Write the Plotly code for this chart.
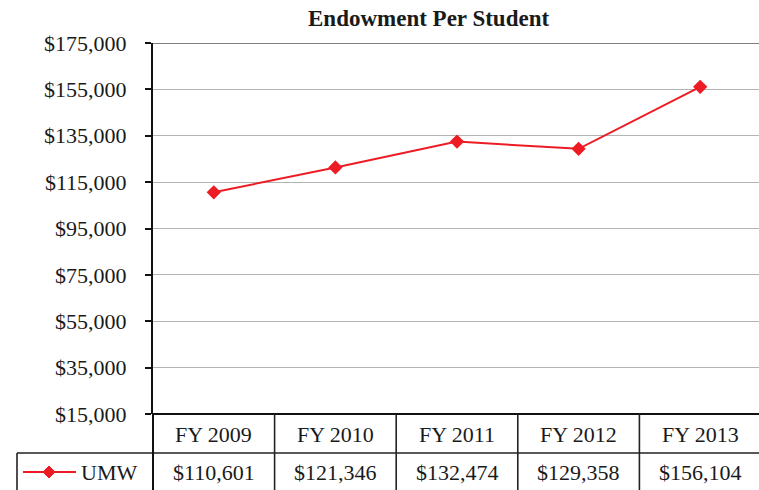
import plotly.graph_objects as go

categories = ["FY 2009", "FY 2010", "FY 2011", "FY 2012", "FY 2013"]
umw_values = [110601, 121346, 132474, 129358, 156104]
series_name = "UMW"
tick_values = [15000, 35000, 55000, 75000, 95000, 115000, 135000, 155000, 175000]
title_text = "Endowment Per Student"

W, H = 759, 490
ML, MT, MB = 153, 43, 76
PW = W - ML
PH = H - MT - MB
RED = "#ED1C24"
FONT = "Liberation Serif, Times New Roman, serif"
TXT = "#1a1a1a"
FS = 22

def px_x(p):
    return (p - ML) / PW

def px_y(p):
    return (H - MB - p) / PH

xs = list(range(len(categories)))
fig = go.Figure()
fig.add_trace(go.Scatter(
    x=xs, y=umw_values, mode="lines+markers", name=series_name,
    line=dict(color=RED, width=2),
    marker=dict(symbol="diamond", size=11, color=RED),
    showlegend=False, cliponaxis=False,
))

shapes = []
LINE = dict(color="#222", width=1.6)
shapes.append(dict(type="line", xref="paper", yref="y", x0=0, x1=1,
                   y0=tick_values[-1], y1=tick_values[-1],
                   line=dict(color="#555", width=1.5)))
shapes.append(dict(type="line", xref="paper", yref="paper", x0=0, x1=1.01,
                   y0=0, y1=0, line=dict(color="#111", width=2)))
row_sep = px_y(453)
bottom = px_y(500)
shapes.append(dict(type="line", xref="paper", yref="paper", x0=px_x(17), x1=1.01,
                   y0=row_sep, y1=row_sep, line=LINE))
shapes.append(dict(type="line", xref="paper", yref="paper", x0=px_x(17), x1=px_x(17),
                   y0=row_sep, y1=bottom, line=LINE))
shapes.append(dict(type="line", xref="paper", yref="paper", x0=0, x1=0,
                   y0=0, y1=bottom, line=dict(color="#111", width=2)))
for i in range(len(categories) - 1):
    shapes.append(dict(type="line", xref="x", yref="paper", x0=i + 0.5, x1=i + 0.5,
                       y0=0, y1=bottom, line=LINE))
# legend key in table
ly = px_y(472)
shapes.append(dict(type="line", xref="paper", yref="paper", x0=px_x(23), x1=px_x(76),
                   y0=ly, y1=ly, line=dict(color=RED, width=2)))
shapes.append(dict(type="path", xref="paper", yref="paper",
                   xsizemode="pixel", ysizemode="pixel",
                   xanchor=px_x(49), yanchor=ly,
                   path="M-6,0L0,6L6,0L0,-6Z",
                   fillcolor=RED, line=dict(color=RED, width=1)))

annotations = []
for i, (c, v) in enumerate(zip(categories, umw_values)):
    annotations.append(dict(x=i, y=px_y(434), xref="x", yref="paper", text=c,
                            yanchor="middle", xanchor="center",
                            showarrow=False, font=dict(family=FONT, size=FS, color=TXT)))
    annotations.append(dict(x=i, y=px_y(472), xref="x", yref="paper", text=f"${v:,}",
                            yanchor="middle", xanchor="center",
                            showarrow=False, font=dict(family=FONT, size=FS, color=TXT)))
annotations.append(dict(x=px_x(79), y=px_y(472), xref="paper", yref="paper",
                        text=series_name, xanchor="left", yanchor="middle", showarrow=False,
                        font=dict(family=FONT, size=FS, color=TXT)))
annotations.append(dict(x=px_x(428), y=px_y(18), xref="paper", yref="paper",
                        text="<b>" + title_text + "</b>", showarrow=False,
                        xanchor="center", yanchor="middle",
                        font=dict(family=FONT, size=23, color=TXT)))

fig.update_layout(
    width=W, height=H,
    margin=dict(l=ML, r=0, t=MT, b=MB, autoexpand=False),
    paper_bgcolor="white", plot_bgcolor="white",
    shapes=shapes, annotations=annotations,
    xaxis=dict(range=[-0.5, -0.5 + PW / 121.6], showticklabels=False, showgrid=False,
               zeroline=False, showline=False, ticks=""),
    yaxis=dict(range=[tick_values[0], tick_values[-1]], tickvals=tick_values,
               tickformat="$,.0f", showgrid=True, gridcolor="#b3b3b3", gridwidth=1,
               zeroline=False, showline=True, linecolor="#111", linewidth=2,
               ticks="outside", ticklen=6, tickcolor="#111", tickwidth=1.5,
               ticklabelstandoff=14, automargin=False,
               tickfont=dict(family=FONT, size=FS, color=TXT)),
)

fig.write_html("out.html", config={"displayModeBar": False},
               post_script="document.body.style.margin='0';")
